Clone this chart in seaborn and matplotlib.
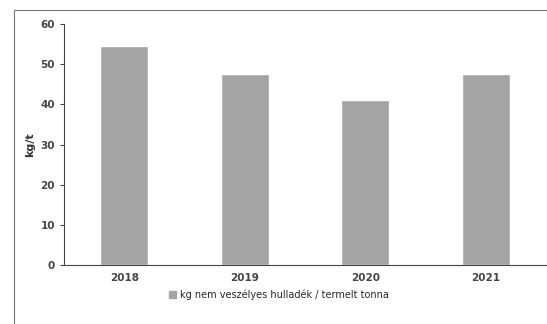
import seaborn as sns
import matplotlib.pyplot as plt
import matplotlib.patches as mpatches
import pandas as pd

years = ["2018", "2019", "2020", "2021"]
values = [54.5, 47.5, 41, 47.5]
series_name = "kg nem veszélyes hulladék / termelt tonna"
y_ticks = [0, 10, 20, 30, 40, 50, 60]

df = pd.DataFrame({"Year": years, "Value": values})

sns.set_style("white")
fig = plt.figure(figsize=(5.47, 3.24), dpi=100)
ax = fig.add_axes([0.117, 0.182, 0.881, 0.744])

sns.barplot(x="Year", y="Value", data=df, color="#a4a4a4", width=0.4,
            saturation=1, ax=ax)

ax.set_ylim(0, 60)
ax.set_yticks(y_ticks)
ax.set_xlabel("")
ax.set_ylabel("kg/t", fontsize=8, fontweight="bold", color="#333333")
ax.tick_params(axis="both", labelsize=7.5, colors="#444444", length=3)
for lab in ax.get_xticklabels() + ax.get_yticklabels():
    lab.set_fontweight("bold")
ax.tick_params(axis="x", length=0, pad=6)
ax.tick_params(axis="y", direction="out", left=True)
sns.despine(ax=ax, top=True, right=True)
ax.spines["left"].set_color("#444444")
ax.spines["bottom"].set_color("#444444")

handle = mpatches.Patch(color="#a4a4a4", label=series_name)
fig.legend(handles=[handle], loc="center", bbox_to_anchor=(0.51, 0.09),
           frameon=False, fontsize=7, handlelength=0.7, handleheight=0.7,
           handletextpad=0.4)

# outer chart frame
fig.add_artist(mpatches.Rectangle((0.025, -0.01), 0.98, 0.98, transform=fig.transFigure,
                                  fill=False, edgecolor="#777777", linewidth=0.8))

fig.savefig("out.png", dpi=100)
